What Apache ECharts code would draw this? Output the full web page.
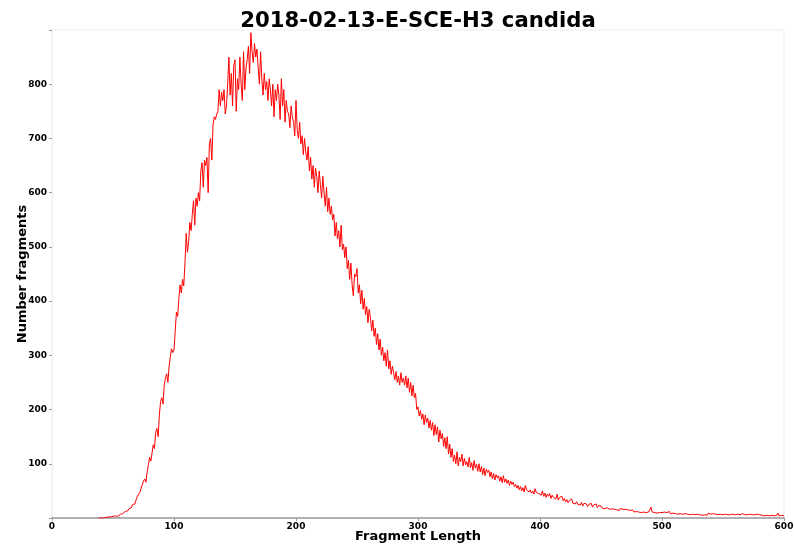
<!DOCTYPE html>
<html>
<head>
<meta charset="utf-8">
<script src="https://cdn.jsdelivr.net/npm/echarts@6/dist/echarts.min.js"></script>
<style>html,body{margin:0;padding:0;background:#fff}#c{width:794px;height:547px}</style>
</head>
<body>
<div id="c"></div>
<script>
const chartTitle = "2018-02-13-E-SCE-H3 candida";
const xName = "Fragment Length";
const yName = "Number fragments";
const xTicks = [0, 100, 200, 300, 400, 500, 600];
const yTicks = [100, 200, 300, 400, 500, 600, 700, 800];
const startLength = 38;
const counts = [
0,1,0,1,0,1,1,0,2,1,2,1,
3,2,4,5,3,6,7,9,8,11,
12,14,13,17,20,19,25,28,26,34,
40,38,47,55,52,68,72,66,85,98,
112,105,120,135,128,158,165,150,190,215,
222,210,245,258,266,250,280,298,312,305,
310,345,380,372,405,430,415,440,428,470,
525,490,510,545,530,560,585,540,590,575,
600,585,640,655,610,660,650,665,600,690,
700,660,725,740,735,745,750,790,760,785,
770,790,745,760,800,850,780,820,760,835,
845,750,810,790,850,800,770,860,790,830,
845,870,820,895,860,840,875,850,865,830,
800,860,810,780,820,790,805,770,810,790,
760,800,740,790,770,800,780,735,810,760,
790,730,770,750,745,720,760,740,730,705,
770,715,700,730,690,705,670,700,675,660,
685,640,665,625,650,610,645,630,600,640,
615,590,630,600,575,610,565,590,560,575,
550,560,520,545,515,530,500,540,495,505,
480,500,460,475,440,470,430,410,450,445,
460,415,430,395,420,385,405,375,390,360,
385,370,345,365,335,350,320,340,310,330,
300,315,290,305,280,310,275,290,265,280,
268,255,270,250,262,245,268,250,258,245,
262,240,258,232,250,225,245,222,230,200,
205,188,198,182,192,172,190,176,184,166,
180,162,176,152,172,154,168,140,162,146,
156,132,148,128,150,118,136,112,128,104,
116,100,122,96,112,104,118,96,110,98,
104,94,112,93,102,88,106,92,99,86,
100,85,95,80,92,78,90,84,88,76,
85,72,82,70,80,74,78,68,76,65,
78,66,72,64,70,60,68,62,66,58,
62,55,60,52,58,50,56,48,60,52,
55,48,52,46,50,44,54,47,50,45,
48,42,50,40,46,38,44,40,45,36,
42,38,40,35,44,33,38,36,40,32,
36,30,34,28,32,30,35,27,30,26,
30,25,28,24,29,22,27,24,26,21,
25,22,27,20,24,21,26,19,23,20,
22,18,21,17,20,19,22,16,19,17,
19,16,18,15,17,14,18,15,16,13,
16,13,15,12,14,12,15,11,14,12,
13,11,14,10,12,11,13,10,12,11,
12,20,11,14,10,12,9,11,10,12,
10,9,11,8,10,9,12,8,10,9,
9,8,10,7,9,8,10,7,9,8,
8,7,9,6,8,7,9,6,8,7,
8,6,7,5,8,6,7,5,9,6,
7,5,8,6,7,5,6,4,7,5,
6,5,7,4,6,5,6,4,7,5,
6,4,7,5,6,4,8,5,6,4,
6,5,7,4,6,5,6,4,7,5,
6,4,5,7,4,6,5,8,4,6,
5,8,4,6,5,9,4,6,5,7,4
];

const points = counts.map((v, i) => [startLength + i, v]);
const font = "DejaVu Sans";
const chart = echarts.init(document.getElementById('c'), null, {renderer: 'canvas'});
chart.setOption({
  animation: false,
  backgroundColor: '#fff',
  title: {
    text: chartTitle, left: 413, textAlign: 'center', top: 6,
    textStyle: {fontFamily: font, fontWeight: 'bold', fontSize: 21.2, color: '#000'}
  },
  grid: {left: 52, right: 10, top: 30, bottom: 29, containLabel: false, outerBoundsMode: 'none',
         show: true, borderColor: '#eeeeee', borderWidth: 1},
  xAxis: {
    type: 'value', min: 0, max: 600, interval: 100,
    name: xName, nameLocation: 'middle', nameGap: 12, nameMoveOverlap: false,
    nameTextStyle: {fontFamily: font, fontWeight: 'bold', fontSize: 13, color: '#000'},
    axisLine: {show: true, lineStyle: {color: '#999', width: 1.5}},
    axisTick: {show: true, length: 3, lineStyle: {color: '#999'}},
    splitLine: {show: false},
    axisLabel: {
      fontFamily: font, fontWeight: 'bold', fontSize: 9, color: '#000', margin: 4,
      formatter: v => xTicks.includes(v) ? String(v) : ''
    }
  },
  yAxis: {
    type: 'value', min: 0, max: 900, interval: 100,
    name: yName, nameLocation: 'middle', nameGap: 23, nameMoveOverlap: false,
    nameTextStyle: {fontFamily: font, fontWeight: 'bold', fontSize: 13, color: '#000'},
    axisLine: {show: true, lineStyle: {color: '#eeeeee', width: 1}},
    axisTick: {show: true, length: 3, lineStyle: {color: '#999'}},
    splitLine: {show: false},
    axisLabel: {
      fontFamily: font, fontWeight: 'bold', fontSize: 9, color: '#000', margin: 5,
      formatter: v => yTicks.includes(v) ? String(v) : ''
    }
  },
  series: [{
    type: 'line', data: points, showSymbol: false, symbol: 'none',
    lineStyle: {color: '#ff0000', width: 1}, itemStyle: {color: '#ff0000'}
  }]
});
</script>
</body>
</html>
